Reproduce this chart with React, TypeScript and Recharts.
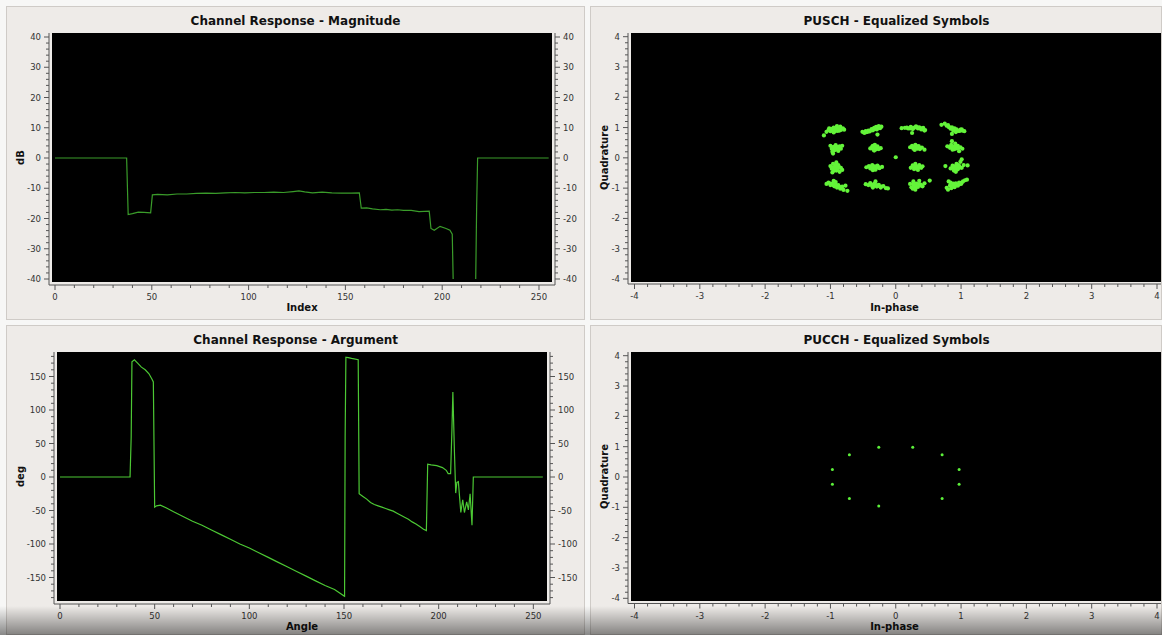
import { LineChart, Line, ScatterChart, Scatter, XAxis, YAxis, CartesianGrid } from 'recharts';

const FONT = "'DejaVu Sans', 'Liberation Sans', sans-serif";
const PAGE_BG = '#f7f7f6';
const PANEL_BG = '#eeebe8';
const AXIS = '#555';
const TICK_TEXT = '#333';

// channel response magnitude (dB) per subcarrier index
const magIndex = [0, 37, 37.8, 40, 43, 46, 49.4, 50.3, 53, 58, 63, 68, 73, 78, 83, 88, 93, 98, 103, 108, 113, 118, 123, 126, 129, 133, 138, 143, 148, 153, 157.2, 158.2, 161, 164, 168, 171, 174, 177, 180, 184, 188, 193.3, 194.2, 195.9, 198.9, 202, 204, 205.2, 205.7, 217.3, 217.8, 218.3, 255];
const magDb = [0, 0, -18.7, -18.4, -17.9, -18.0, -18.1, -12.2, -12.0, -12.2, -11.9, -11.9, -11.7, -11.6, -11.7, -11.5, -11.4, -11.5, -11.4, -11.4, -11.3, -11.4, -11.1, -10.9, -11.2, -11.5, -11.3, -11.5, -11.6, -11.6, -11.5, -16.6, -16.5, -16.8, -17.1, -17.0, -17.2, -17.1, -17.3, -17.3, -17.7, -17.6, -23.3, -23.9, -22.6, -23.3, -23.9, -25.2, -41, -41, -16, 0, 0];

// channel response argument (deg) per subcarrier index
const argIndex = [0, 37, 37.6, 38, 39.3, 41, 43, 45, 47, 48.6, 49.3, 50, 51, 53, 56, 60, 65, 70, 75, 80, 85, 90, 95, 100, 105, 110, 115, 120, 125, 130, 135, 140, 145, 150.3, 150.6, 151, 154, 157.5, 158, 160, 162, 164, 166, 168, 170, 172, 174, 176, 178, 180, 182, 184, 186, 188, 190, 192, 193.5, 194.2, 196, 199, 202, 204, 205, 206.3, 207, 207.5, 208.3, 209, 209.6, 210.4, 211.7, 212.7, 213.6, 214.8, 215.7, 216.6, 217.6, 218.3, 255];
const argDeg = [0, 0, 60, 172, 175, 170, 164, 160, 154, 146, 142, -45, -43, -42, -46, -52, -59, -66, -72, -79, -86, -93, -100, -106, -113, -120, -127, -134, -141, -148, -155, -162, -168, -178, 60, 179, 177, 175, -25, -29, -33, -38, -41, -43, -45, -47, -49, -51, -54, -57, -60, -63, -67, -70, -74, -78, -80, 19, 18, 17, 14, 10, 5, 5, 70, 127, 40, -24, -8, -7, -53, -34, -53, -37, -49, -25, -72, 0, 0];

// PUSCH equalized symbols (I, Q), one list per constellation row
const puschRow1: [number, number][] = [
  [-1.06, 0.86], [-1.03, 0.92], [-1.0, 0.88], [-0.99, 0.96], [-0.96, 0.91], [-0.95, 1.0], [-0.92, 0.95], [-0.9, 1.05],
  [-0.89, 0.89], [-0.87, 0.98], [-0.85, 1.03], [-0.84, 0.92], [-0.81, 0.97], [-0.79, 0.93], [-0.95, 0.84], [-1.1, 0.74],
  [-0.98, 0.92], [-0.93, 0.88], [-0.88, 0.95], [-0.86, 0.9], [-1.02, 0.97], [-0.91, 1.0],
  [-0.51, 0.86], [-0.48, 0.82], [-0.45, 0.85], [-0.42, 0.9], [-0.4, 0.87], [-0.37, 0.95], [-0.35, 0.91], [-0.33, 0.99],
  [-0.3, 1.02], [-0.29, 0.94], [-0.26, 1.05], [-0.24, 0.98], [-0.22, 1.03], [-0.28, 0.77],
  [-0.46, 0.88], [-0.43, 0.86], [-0.38, 0.91], [-0.32, 0.95], [-0.27, 0.99], [-0.34, 0.96],
  [0.09, 0.98], [0.14, 0.99], [0.19, 0.97], [0.23, 1.02], [0.26, 0.95], [0.29, 1.0], [0.31, 1.04], [0.34, 0.97],
  [0.36, 1.01], [0.39, 0.94], [0.42, 0.99], [0.45, 0.92], [0.25, 0.82], [0.44, 0.9],
  [0.17, 1.0], [0.22, 0.97], [0.27, 0.99], [0.33, 1.01], [0.38, 0.98], [0.41, 0.95],
  [0.7, 1.09], [0.75, 1.13], [0.78, 1.06], [0.81, 1.02], [0.84, 0.96], [0.86, 1.01], [0.88, 0.9], [0.9, 0.97],
  [0.93, 0.94], [0.96, 0.89], [0.99, 0.93], [1.02, 0.9], [1.05, 0.88], [0.86, 0.79], [0.92, 0.85],
  [0.8, 1.08], [0.83, 1.0], [0.89, 0.94], [0.94, 0.9], [0.98, 0.89], [1.01, 0.94],
];
const puschRow2: [number, number][] = [
  [-1.0, 0.4], [-0.98, 0.3], [-0.97, 0.2], [-0.95, 0.36], [-0.93, 0.26], [-0.92, 0.42], [-0.9, 0.33], [-0.88, 0.23],
  [-0.86, 0.38], [-0.84, 0.3], [-0.96, 0.14], [-0.82, 0.4],
  [-0.97, 0.34], [-0.94, 0.31], [-0.91, 0.37], [-0.89, 0.28], [-0.95, 0.24], [-0.87, 0.34],
  [-0.39, 0.31], [-0.36, 0.37], [-0.34, 0.27], [-0.32, 0.43], [-0.31, 0.33], [-0.28, 0.38], [-0.26, 0.29], [-0.23, 0.32], [-0.33, 0.24],
  [-0.36, 0.32], [-0.33, 0.36], [-0.29, 0.33], [-0.3, 0.28], [-0.35, 0.4],
  [0.22, 0.35], [0.25, 0.4], [0.27, 0.3], [0.3, 0.43], [0.32, 0.34], [0.35, 0.39], [0.37, 0.29], [0.4, 0.34], [0.44, 0.27], [0.29, 0.26],
  [0.26, 0.35], [0.3, 0.37], [0.33, 0.3], [0.36, 0.34], [0.31, 0.4],
  [0.79, 0.38], [0.83, 0.33], [0.85, 0.43], [0.87, 0.27], [0.89, 0.37], [0.91, 0.47], [0.93, 0.31], [0.95, 0.4],
  [0.97, 0.22], [0.99, 0.35], [1.02, 0.3], [0.86, 0.55],
  [0.84, 0.37], [0.88, 0.33], [0.92, 0.39], [0.96, 0.33], [0.9, 0.29], [0.94, 0.36],
  [0.0, 0.02],
];
const puschRow3: [number, number][] = [
  [-1.0, -0.27], [-0.98, -0.36], [-0.96, -0.2], [-0.95, -0.43], [-0.93, -0.3], [-0.91, -0.15], [-0.89, -0.38], [-0.88, -0.24],
  [-0.86, -0.46], [-0.84, -0.33], [-0.82, -0.4], [-0.97, -0.48],
  [-0.97, -0.32], [-0.94, -0.36], [-0.92, -0.25], [-0.9, -0.33], [-0.87, -0.3], [-0.91, -0.42],
  [-0.45, -0.31], [-0.41, -0.27], [-0.39, -0.35], [-0.36, -0.24], [-0.33, -0.32], [-0.31, -0.39], [-0.28, -0.26], [-0.25, -0.34], [-0.21, -0.3], [-0.35, -0.41],
  [-0.38, -0.3], [-0.35, -0.33], [-0.32, -0.28], [-0.29, -0.32], [-0.27, -0.3],
  [0.23, -0.33], [0.26, -0.25], [0.28, -0.37], [0.3, -0.2], [0.32, -0.31], [0.34, -0.4], [0.36, -0.24], [0.39, -0.33], [0.41, -0.28],
  [0.28, -0.3], [0.31, -0.27], [0.33, -0.34], [0.36, -0.3], [0.3, -0.35],
  [0.76, -0.27], [0.84, -0.35], [0.87, -0.26], [0.89, -0.42], [0.91, -0.31], [0.93, -0.2], [0.95, -0.38], [0.97, -0.27],
  [0.99, -0.13], [1.01, -0.33], [1.01, -0.05], [1.04, -0.24], [1.1, -0.25], [0.92, -0.46],
  [0.88, -0.33], [0.92, -0.36], [0.94, -0.29], [0.98, -0.32], [0.96, -0.24], [0.9, -0.28],
];
const puschRow4: [number, number][] = [
  [-1.06, -0.86], [-1.03, -0.82], [-1.0, -0.9], [-0.97, -0.85], [-0.94, -0.94], [-0.92, -0.8], [-0.9, -0.98], [-0.88, -0.9],
  [-0.85, -1.02], [-0.82, -0.95], [-0.8, -1.06], [-0.77, -0.92], [-0.74, -1.09], [-0.95, -0.76],
  [-1.0, -0.85], [-0.96, -0.9], [-0.92, -0.88], [-0.89, -0.94], [-0.86, -0.96], [-0.83, -1.0],
  [-0.46, -0.87], [-0.42, -0.9], [-0.39, -0.83], [-0.36, -0.93], [-0.33, -0.86], [-0.31, -0.78], [-0.29, -0.95], [-0.26, -0.89],
  [-0.23, -0.98], [-0.19, -0.93], [-0.15, -1.0], [-0.12, -1.01], [-0.35, -0.98],
  [-0.4, -0.88], [-0.37, -0.89], [-0.33, -0.92], [-0.3, -0.9], [-0.27, -0.93], [-0.22, -0.95],
  [0.22, -0.86], [0.24, -0.97], [0.27, -0.78], [0.28, -0.92], [0.3, -1.05], [0.32, -0.85], [0.34, -0.96], [0.36, -0.76],
  [0.38, -0.88], [0.41, -0.94], [0.44, -0.84], [0.52, -0.75], [0.26, -1.02],
  [0.27, -0.88], [0.3, -0.92], [0.33, -0.9], [0.36, -0.87], [0.31, -0.97], [0.39, -0.92],
  [0.78, -0.99], [0.8, -1.05], [0.83, -0.92], [0.85, -1.0], [0.88, -0.9], [0.9, -0.97], [0.92, -0.84], [0.95, -0.92],
  [0.97, -0.82], [1.0, -0.86], [1.03, -0.78], [1.06, -0.74], [1.09, -0.72], [0.84, -0.82], [0.81, -0.78],
  [0.86, -0.95], [0.89, -0.93], [0.93, -0.88], [0.97, -0.88], [1.01, -0.82], [0.88, -0.85],
];

// PUCCH equalized symbols
const pucchI = [-0.26, 0.26, -0.71, 0.71, -0.97, 0.97, -0.97, 0.97, -0.71, 0.71, -0.26];
const pucchQ = [0.98, 0.98, 0.73, 0.73, 0.25, 0.25, -0.24, -0.24, -0.71, -0.71, -0.96];

// axis ticks (majors get labels, the rest are minor ticks)
const idxMajor = [0, 50, 100, 150, 200, 250];
const dbMajor = [-40, -30, -20, -10, 0, 10, 20, 30, 40];
const degMajor = [-150, -100, -50, 0, 50, 100, 150];
const iqMajor = [-4, -3, -2, -1, 0, 1, 2, 3, 4];

const steps = (from: number, to: number, step: number) => {
  const out: number[] = [];
  const n = Math.round((to - from) / step);
  for (let k = 0; k <= n; k++) out.push(Math.round((from + k * step) * 1000) / 1000);
  return out;
};
const idxTicks = steps(0, 250, 10);
const dbTicks = steps(-40, 40, 2);
const degTicks = steps(-180, 180, 10);
const iqTicks = steps(-4, 4, 0.2);

const magData = magIndex.map((i, k) => ({ i, v: magDb[k] }));
const argData = argIndex.map((i, k) => ({ i, v: argDeg[k] }));
const puschData = [...puschRow1, ...puschRow2, ...puschRow3, ...puschRow4].map(([x, y]) => ({ x, y }));
const pucchData = pucchI.map((x, k) => ({ x, y: pucchQ[k] }));

const titleStyle = { fontFamily: FONT, fontWeight: 'bold', fontSize: 10, fill: '#111' };

// qwt-like scale: labelled major ticks, short minor ticks
function QwtTick(props: any) {
  const { x, y, payload, side, majors } = props;
  const v = payload.value;
  const major = majors.some((m: number) => Math.abs(m - v) < 1e-6);
  const len = major ? 5 : 3;
  const st = { fontFamily: FONT, fontSize: 8.5, fill: TICK_TEXT };
  if (side === 'bottom') {
    return (
      <g>
        <line x1={x} y1={y} x2={x} y2={y + len} stroke={AXIS} />
        {major && <text x={x} y={y + 15} textAnchor="middle" style={st}>{v}</text>}
      </g>
    );
  }
  const dir = side === 'left' ? -1 : 1;
  return (
    <g>
      <line x1={x} y1={y} x2={x + dir * len} y2={y} stroke={AXIS} />
      {major && (
        <text x={x + dir * 8} y={y + 3} textAnchor={side === 'left' ? 'end' : 'start'} style={st}>{v}</text>
      )}
    </g>
  );
}

function YTitle(props: any) {
  const { viewBox, text } = props;
  const cx = viewBox.x + 14;
  const cy = 27 + 249 / 2;
  return (
    <text x={cx} y={cy} transform={`rotate(-90 ${cx} ${cy})`} textAnchor="middle" dominantBaseline="central" style={titleStyle}>
      {text}
    </text>
  );
}

function Panel({ left, top, width, height, title, titleX, children }: any) {
  return (
    <div style={{ position: 'absolute', left, top, width, height, background: PANEL_BG, boxShadow: 'inset 0 0 0 1px #cfcbc7' }}>
      <div style={{ position: 'absolute', left: titleX - 200, width: 400, top: 8, textAlign: 'center', fontFamily: FONT, fontWeight: 'bold', fontSize: 12, lineHeight: '15px', color: '#111' }}>
        {title}
      </div>
      <div style={{ position: 'absolute', left: 0, top: 0 }}>{children}</div>
    </div>
  );
}

// canvas is inset 3px from the axis backbones, as in qwt
function ChannelChart({ data, width, height, plotLeft, plotRight, plotBottom, xPad, yPad, yDomain, yTicks, yMajors, yTitle, xTitle, xTitleOffset, color }: any) {
  return (
    <LineChart width={width} height={height} data={data} margin={{ top: 27, right: 0, bottom: 0, left: 0 }}>
      <CartesianGrid fill="#000" fillOpacity={1} horizontal={false} vertical={false} x={plotLeft + 3} y={27} width={plotRight - plotLeft - 6} height={249} />
      <XAxis
        dataKey="i"
        type="number"
        domain={[0, 256]}
        ticks={idxTicks}
        interval={0}
        padding={xPad}
        allowDataOverflow
        height={height - plotBottom}
        tickLine={false}
        tickSize={0}
        tickMargin={0}
        axisLine={{ stroke: AXIS }}
        tick={<QwtTick side="bottom" majors={idxMajor} />}
        label={{ value: xTitle, position: 'insideBottom', offset: xTitleOffset, style: titleStyle }}
      />
      <YAxis
        yAxisId="l"
        type="number"
        domain={yDomain}
        ticks={yTicks}
        interval={0}
        padding={yPad}
        allowDataOverflow
        width={plotLeft}
        tickLine={false}
        tickSize={0}
        tickMargin={0}
        axisLine={{ stroke: AXIS }}
        tick={<QwtTick side="left" majors={yMajors} />}
        label={<YTitle text={yTitle} />}
      />
      <YAxis
        yAxisId="r"
        orientation="right"
        type="number"
        domain={yDomain}
        ticks={yTicks}
        interval={0}
        padding={yPad}
        allowDataOverflow
        width={width - plotRight}
        tickLine={false}
        tickSize={0}
        tickMargin={0}
        axisLine={{ stroke: AXIS }}
        tick={<QwtTick side="right" majors={yMajors} />}
      />
      <Line yAxisId="l" dataKey="v" type="linear" stroke={color} strokeWidth={1.2} dot={false} isAnimationActive={false} />
    </LineChart>
  );
}

function ConstellationChart({ data, width, height, plotBottom, yPad, xTitleOffset, dotR, color }: any) {
  return (
    <ScatterChart width={width} height={height} margin={{ top: 27, right: 1, bottom: 0, left: 0 }}>
      <CartesianGrid fill="#000" fillOpacity={1} horizontal={false} vertical={false} x={41} y={27} width={width - 42} height={249} />
      <XAxis
        dataKey="x"
        type="number"
        domain={[-4, 4]}
        ticks={iqTicks}
        interval={0}
        padding={{ left: 6.5, right: 4 }}
        height={height - plotBottom}
        tickLine={false}
        tickSize={0}
        tickMargin={0}
        axisLine={{ stroke: AXIS }}
        tick={<QwtTick side="bottom" majors={iqMajor} />}
        label={{ value: 'In-phase', position: 'insideBottom', offset: xTitleOffset, style: titleStyle }}
      />
      <YAxis
        dataKey="y"
        type="number"
        domain={[-4, 4]}
        ticks={iqTicks}
        interval={0}
        padding={yPad}
        width={38}
        tickLine={false}
        tickSize={0}
        tickMargin={0}
        axisLine={{ stroke: AXIS }}
        tick={<QwtTick side="left" majors={iqMajor} />}
        label={<YTitle text="Quadrature" />}
      />
      <Scatter
        data={data}
        isAnimationActive={false}
        shape={(p: any) => <circle cx={p.cx} cy={p.cy} r={dotR} fill={color} />}
      />
    </ScatterChart>
  );
}

export default function App() {
  return (
    <div style={{ position: 'relative', width: 1162, height: 635, background: PAGE_BG, overflow: 'hidden', fontFamily: FONT }}>
      <style>{'body{margin:0}'}</style>

      <Panel left={6} top={6} width={579} height={314} title="Channel Response - Magnitude" titleX={289.5}>
        <ChannelChart
          data={magData}
          width={579}
          height={314}
          plotLeft={43}
          plotRight={549}
          plotBottom={279}
          xPad={{ left: 6, right: 4.4 }}
          yPad={{ top: 4, bottom: 6 }}
          yDomain={[-40, 40]}
          yTicks={dbTicks}
          yMajors={dbMajor}
          yTitle="dB"
          xTitle="Index"
          xTitleOffset={9}
          color="#3a9c2a"
        />
      </Panel>

      <Panel left={590} top={6} width={572} height={314} title="PUSCH - Equalized Symbols" titleX={306.5}>
        <ConstellationChart data={puschData} width={572} height={314} plotBottom={278} yPad={{ top: 3.7, bottom: 5 }} xTitleOffset={9} dotR={2.1} color="#64f43a" />
      </Panel>

      <Panel left={6} top={325} width={579} height={310} title="Channel Response - Argument" titleX={289.7}>
        <ChannelChart
          data={argData}
          width={579}
          height={310}
          plotLeft={48}
          plotRight={544}
          plotBottom={279}
          xPad={{ left: 6, right: 5.3 }}
          yPad={{ top: 4.4, bottom: 6.4 }}
          yDomain={[-180, 180]}
          yTicks={degTicks}
          yMajors={degMajor}
          yTitle="deg"
          xTitle="Angle"
          xTitleOffset={5}
          color="#4cc834"
        />
      </Panel>

      <Panel left={590} top={325} width={572} height={310} title="PUCCH - Equalized Symbols" titleX={306.5}>
        <ConstellationChart data={pucchData} width={572} height={310} plotBottom={278.5} yPad={{ top: 3.7, bottom: 5.2 }} xTitleOffset={5} dotR={1.5} color="#5cf03a" />
      </Panel>

      <div style={{ position: 'absolute', left: 0, top: 606, width: 1162, height: 29, background: 'linear-gradient(rgba(0,0,0,0), rgba(0,0,0,0.45))', pointerEvents: 'none' }} />
    </div>
  );
}
